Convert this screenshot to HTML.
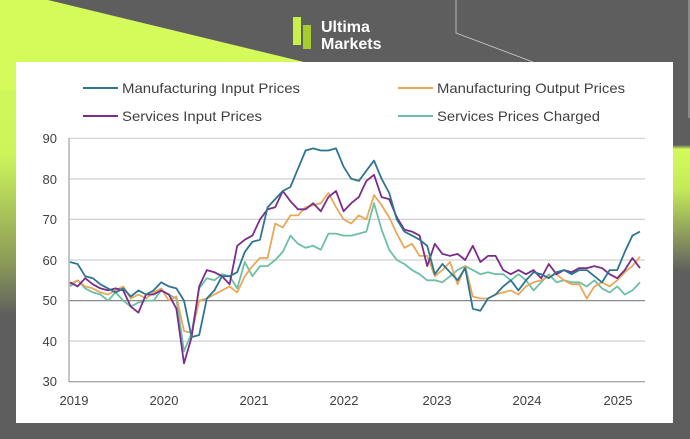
<!DOCTYPE html>
<html><head><meta charset="utf-8"><style>
html,body{margin:0;padding:0;background:#5e5e5e;}
svg{display:block;font-family:"Liberation Sans",sans-serif;}
</style></head><body>
<svg width="690" height="439" viewBox="0 0 690 439" xmlns="http://www.w3.org/2000/svg">
<defs>
<linearGradient id="gl" x1="0" y1="0" x2="0" y2="1">
<stop offset="0" stop-color="#d4fb5a"/><stop offset="0.35" stop-color="#cdf55a"/><stop offset="0.6" stop-color="#8a9a58"/><stop offset="0.72" stop-color="#5e5e5e"/><stop offset="1" stop-color="#5e5e5e"/></linearGradient>
<linearGradient id="gr" x1="0" y1="0" x2="0" y2="1">
<stop offset="0" stop-color="#5e5e5e"/><stop offset="0.33" stop-color="#5e5e5e"/><stop offset="0.34" stop-color="#d4fb5a"/><stop offset="0.43" stop-color="#c4ea58"/><stop offset="0.62" stop-color="#5e5e5e"/><stop offset="1" stop-color="#5e5e5e"/></linearGradient>
</defs>
<rect width="690" height="439" fill="#5e5e5e"/>
<rect x="0" y="0" width="16" height="439" fill="url(#gl)"/>
<rect x="673" y="0" width="17" height="439" fill="url(#gr)"/>
<polygon points="0,0 48,0 304,62 16,62 16,90 0,90" fill="#d4fb5a"/>
<polyline points="456,0 456,33 533,62" fill="none" stroke="#cfcfcf" stroke-width="0.8"/>
<line x1="689" y1="0" x2="689" y2="118" stroke="#cfcfcf" stroke-width="0.8"/>
<!-- logo -->
<rect x="293" y="17" width="8" height="28" fill="#c8f04a"/>
<rect x="303" y="25" width="8" height="24" fill="#a6cc30"/>
<text x="321" y="32" fill="#fff" font-size="16" font-weight="bold">Ultima</text>
<text x="321" y="49" fill="#fff" font-size="16" font-weight="bold">Markets</text>
<rect x="16" y="62" width="657" height="361" fill="#fff"/>
<!-- legend -->
<g font-size="14" fill="#404040">
<line x1="83" y1="88" x2="118" y2="88" stroke="#2e7591" stroke-width="2"/><text x="122" y="93" textLength="178" lengthAdjust="spacingAndGlyphs">Manufacturing Input Prices</text>
<line x1="398" y1="88" x2="433" y2="88" stroke="#e8a85a" stroke-width="2"/><text x="437" y="93" textLength="188" lengthAdjust="spacingAndGlyphs">Manufacturing Output Prices</text>
<line x1="83" y1="116" x2="118" y2="116" stroke="#7b2d8b" stroke-width="2"/><text x="122" y="121" textLength="140" lengthAdjust="spacingAndGlyphs">Services Input Prices</text>
<line x1="398" y1="116" x2="433" y2="116" stroke="#6dbfa6" stroke-width="2"/><text x="437" y="121" textLength="163" lengthAdjust="spacingAndGlyphs">Services Prices Charged</text>
</g>
<!-- grid -->
<g stroke="#d0d0d0" stroke-width="1.2">
<line x1="69" y1="138.3" x2="645" y2="138.3"/>
<line x1="69" y1="178.9" x2="645" y2="178.9"/>
<line x1="69" y1="219.4" x2="645" y2="219.4"/>
<line x1="69" y1="260" x2="645" y2="260"/>
<line x1="69" y1="341.1" x2="645" y2="341.1"/>
</g>
<line x1="69" y1="300.6" x2="645" y2="300.6" stroke="#8a8a8a" stroke-width="1.3"/>
<line x1="69" y1="381.7" x2="645" y2="381.7" stroke="#a8a8a8" stroke-width="1.3"/>
<line x1="69" y1="138" x2="69" y2="382" stroke="#a8a8a8" stroke-width="1.3"/>
<g font-size="13" fill="#404040" text-anchor="end">
<text x="57" y="143">90</text><text x="57" y="184">80</text><text x="57" y="224">70</text><text x="57" y="265">60</text><text x="57" y="305">50</text><text x="57" y="346">40</text><text x="57" y="386">30</text>
</g>
<g font-size="13" fill="#404040" text-anchor="middle">
<text x="74" y="405">2019</text><text x="164" y="405">2020</text><text x="254" y="405">2021</text><text x="344" y="405">2022</text><text x="437" y="405">2023</text><text x="527" y="405">2024</text><text x="618" y="405">2025</text>
</g>
<g id="series" fill="none" stroke-width="1.8" stroke-linejoin="round"></g>
<script>
var S=[
["#6dbfa6",[53.5,55,53,52,51.5,50,52,50,48.5,49.5,50,50,52.5,51.5,50.5,37.5,42,53,55.5,55,56.5,56,53,59.5,56,58.5,58.5,60,62,66,64,63,63.5,62.5,66.5,66.5,66,66,66.5,67,74,67.5,62.5,60,59,57.5,56.5,55,55,54.5,56,57.5,58.5,57.5,56.5,57,56.5,56.5,55,56.5,55,52.5,54.5,56.5,54.5,55,54.5,54.5,53.5,55,53,52,53.5,51.5,52.5,54.5]],
["#e8a85a",[54,55,53.5,53,52,51.5,52.5,53.5,50.5,51.5,50.5,52,53,50,51,42.5,42,50,50.5,51.5,52.5,53.5,52,56,58.5,60.5,60.5,69,68,71,71,73,73.5,74,76.5,73,70,69,71,70,76,73.5,70.5,66.5,63,64,61,61,56,57.5,59.5,54,58.5,51,50.5,50.5,51.5,52,52.5,51.5,53.5,54.5,55,56,56.5,55,54,54,50.5,53.5,54.5,53.5,55,57,58.5,60.8]],
["#7b2d8b",[54.5,53.5,55.5,54,53,52.5,53,52.5,48.5,47,51.5,51.5,52.5,51.5,48,34.5,41,53.5,57.5,57,56,54,63.5,65,66,70,72.5,73,77,74.5,72.5,72.5,74,72,75.5,77,72,74,75.5,79.5,81,75.5,75,70.5,67.5,67,66,58.5,64,61.5,61,61.5,60,63.5,59.5,61,61,57.5,56.5,57.5,56.5,57.5,55.5,59,56.5,57.5,57,58,58,58.5,58,56.5,55.5,57.5,60.5,58]],
["#2e7591",[59.5,59,56,55.5,54,53,52,53,51,52.5,51.5,52.5,54.5,53.5,53,50,41,41.5,50.5,52.5,56,56,57,62,64.5,65,73,75,77,78,82.5,87,87.5,87,87,87.5,83,80,79.5,82,84.5,80,76.5,70,67,66,65,63.5,56.5,59,57,55,58,48,47.5,50.5,51.5,53.5,55,52.5,55,57,56.5,55.5,57,57.5,56.5,57.5,57.5,56,54.5,57.5,57.5,62,66,67]]
];
var g=document.getElementById("series");
S.forEach(function(s){var p=s[1].map(function(v,i){return (70+i*7.6).toFixed(1)+","+(381.7-(v-30)*4.057).toFixed(1)}).join(" ");
var e=document.createElementNS("http://www.w3.org/2000/svg","polyline");e.setAttribute("points",p);e.setAttribute("stroke",s[0]);g.appendChild(e);});
</script>
</svg>
</body></html>
